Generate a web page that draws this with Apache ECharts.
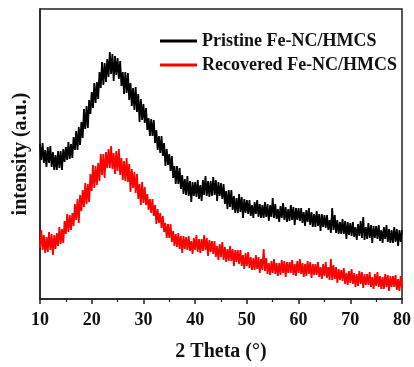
<!DOCTYPE html>
<html>
<head>
<meta charset="utf-8">
<script src="https://cdn.jsdelivr.net/npm/echarts@6/dist/echarts.min.js"></script>
<style>
html,body{margin:0;padding:0;background:#fff;}
#chart{width:414px;height:367px;}
</style>
</head>
<body>
<div id="chart"></div>
<script>
// 2θ scan grid (degrees): start and step of the measurement
const thetaStart = 10;
const thetaStep = 0.25;
const xTicks = [10, 20, 30, 40, 50, 60, 70, 80];
const seriesNames = ["Pristine Fe-NC/HMCS", "Recovered Fe-NC/HMCS"];

// intensity (a.u., offset traces)
const pristine = [
155,139,156,136,149,132,152,136,153,132,
147,129,144,129,148,131,148,129,150,137,
152,139,157,140,155,141,162,149,168,149,
172,154,177,161,190,170,193,171,199,185,
207,191,216,196,217,200,227,211,237,214,
236,217,240,222,247,225,245,218,243,224,
241,220,238,213,227,205,227,206,226,199,
216,193,211,189,212,187,205,177,200,179,
195,176,191,169,181,163,180,163,179,156,
169,149,163,146,163,143,156,133,150,134,
145,128,143,121,133,115,133,115,131,110,
124,105,120,104,123,103,118,97,117,103,
117,102,119,100,114,98,119,104,123,103,
118,102,118,103,122,104,119,98,117,103,
116,100,115,95,108,90,109,92,109,89,
103,86,101,86,105,87,102,81,100,86,
99,85,99,83,94,81,97,85,99,82,
95,81,94,81,97,82,95,78,94,82,
101,81,95,80,90,77,93,81,96,79,
92,77,90,78,94,79,92,74,91,79,
91,78,91,76,87,73,89,77,91,74,
87,72,85,72,88,73,85,68,85,72,
84,71,84,69,79,66,91,69,84,66,
79,65,77,65,80,65,78,60,77,64,
76,63,77,62,72,59,75,63,78,61,
82,59,72,60,76,61,74,56,73,61,
73,60,74,58,69,56,72,60,74,57,
70,56,69,56,72,57,70,53,69,57,
69
];
const recovered = [
51,69,49,64,46,62,47,67,49,65,
44,64,50,66,53,72,55,70,56,78,
65,85,67,84,69,86,73,95,79,100,
76,104,88,109,92,116,95,115,97,125,
108,134,111,133,114,136,118,145,124,145,
121,147,131,150,131,153,130,146,125,148,
128,150,124,141,119,138,118,141,117,135,
107,130,111,127,106,125,100,115,94,117,
96,112,94,105,89,100,86,100,83,94,
75,90,76,86,71,83,67,76,61,75,
61,75,57,68,53,65,52,66,50,63,
46,63,50,62,49,63,48,58,45,61,
49,64,47,60,46,60,48,64,49,61,
43,59,47,58,45,58,42,53,39,55,
42,57,39,52,37,50,38,53,38,50,
33,49,37,49,35,49,33,44,30,46,
33,47,31,42,29,41,29,44,30,42,
26,40,29,50,28,41,25,36,24,38,
26,40,25,36,23,36,24,39,26,38,
22,37,26,37,26,39,24,35,23,38,
26,40,25,36,22,35,23,38,25,37,
21,35,24,35,24,37,22,32,20,35,
23,37,21,32,19,40,19,34,20,32,
16,30,19,29,18,31,15,26,14,28,
16,30,15,26,12,25,13,28,15,27,
11,25,14,25,14,27,12,22,10,25,
13,27,12,23,10,22,10,25,12,24,
8,23,12,23,12,24,9,20,8,23,
11
];

function pairs(arr){
  return arr.map((v,i)=>[thetaStart + i*thetaStep, v]);
}

const font = '"Times New Roman","Liberation Serif",serif';
const chart = echarts.init(document.getElementById('chart'), null, {renderer:'canvas'});
chart.setOption({
  animation:false,
  backgroundColor:'#fff',
  grid:{left:40, right:12, top:9, bottom:68, show:true, borderColor:'#222', borderWidth:1.5, backgroundColor:'transparent'},
  legend:{
    orient:'vertical', left:155, top:27, itemGap:6,
    itemWidth:37, itemHeight:3, icon:'rect',
    textStyle:{fontFamily:font, fontWeight:'bold', fontSize:18, color:'#111'},
    data:seriesNames
  },
  xAxis:{
    type:'value', min:xTicks[0], max:xTicks[xTicks.length-1], interval:10,
    name:'2 Theta (°)', nameLocation:'middle', nameGap:43,
    nameTextStyle:{fontFamily:font, fontWeight:'bold', fontSize:20, color:'#111'},
    axisLine:{show:true, lineStyle:{color:'#222', width:1.5}},
    axisTick:{show:true, length:5, lineStyle:{color:'#222', width:1.5}},
    minorTick:{show:true, splitNumber:2, length:3, lineStyle:{color:'#222', width:1.2}},
    axisLabel:{fontFamily:font, fontWeight:'bold', fontSize:18, color:'#111', margin:12},
    splitLine:{show:false}
  },
  yAxis:{
    type:'value', min:0, max:290,
    name:'intensity (a.u.)', nameLocation:'middle', nameGap:9,
    nameTextStyle:{fontFamily:font, fontWeight:'bold', fontSize:20, color:'#111'},
    axisLine:{show:true, lineStyle:{color:'#222', width:1.5}},
    axisTick:{show:false}, axisLabel:{show:false}, splitLine:{show:false}
  },
  series:[
    {name:seriesNames[0], type:'line', data:pairs(pristine), showSymbol:false, symbol:'none',
     color:'#000', lineStyle:{color:'#000', width:1.8}},
    {name:seriesNames[1], type:'line', data:pairs(recovered), showSymbol:false, symbol:'none',
     color:'#ff0000', lineStyle:{color:'#ff0000', width:1.8}}
  ]
});
</script>
</body>
</html>
